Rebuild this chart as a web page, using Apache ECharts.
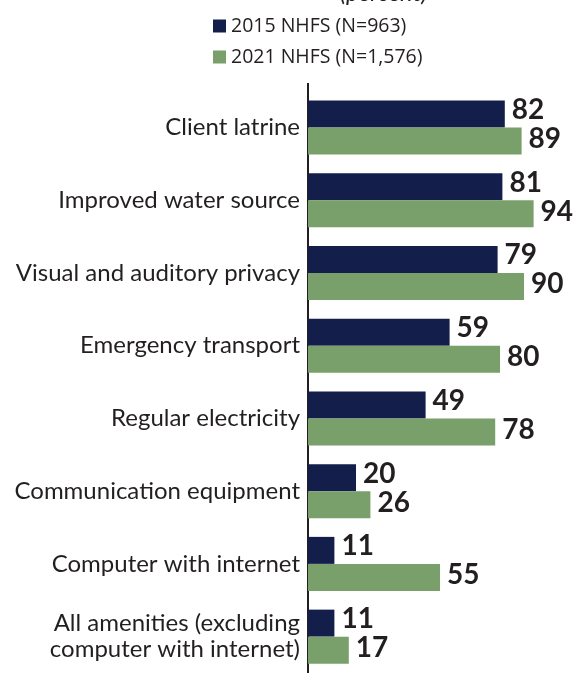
<!DOCTYPE html>
<html>
<head>
<meta charset="utf-8">
<script src="https://cdn.jsdelivr.net/npm/echarts@6/dist/echarts.min.js"></script>
<style>
html,body{margin:0;padding:0;background:#fff;}
#chart{width:573px;height:673px;}
</style>
</head>
<body>
<div id="chart"></div>
<script>
const categories = [
  "Client latrine",
  "Improved water source",
  "Visual and auditory privacy",
  "Emergency transport",
  "Regular electricity",
  "Communication equipment",
  "Computer with internet",
  "All amenities (excluding\ncomputer with internet)"
];
const seriesNames = ["2015 NHFS (N=963)", "2021 NHFS (N=1,576)"];
const values2015 = [82, 81, 79, 59, 49, 20, 11, 11];
const values2021 = [89, 94, 90, 80, 78, 26, 55, 17];

const chart = echarts.init(document.getElementById('chart'));
const labelStyle = {
  show: true, position: 'right', distance: 7,
  fontSize: 28, fontWeight: 'bold', color: '#231f20', fontFamily: 'Lato'
};
chart.setOption({
  animation: false,
  title: {
    text: '(percent)', left: 335, top: -24,
    textStyle: {fontSize: 24, fontStyle: 'italic', fontWeight: 'normal', color: '#231f20', fontFamily: 'Lato'}
  },
  legend: {
    orient: 'vertical', left: 208, top: 11, itemWidth: 13, itemHeight: 13, itemGap: 11,
    icon: 'rect',
    textStyle: {fontSize: 19.5, color: '#231f20', fontFamily: 'Open Sans'},
    data: seriesNames
  },
  grid: {left: 308, right: 25, top: 91, bottom: 0, containLabel: false},
  xAxis: {type: 'value', min: 0, max: 100, show: false},
  yAxis: {
    type: 'category', data: categories, inverse: true,
    axisLine: {show: true, lineStyle: {color: '#231f20', width: 2}},
    axisTick: {show: false},
    axisLabel: {fontSize: 24, color: '#231f20', fontFamily: 'Lato', margin: 8, lineHeight: 26, align: 'right'}
  },
  graphic: [{
    type: 'line', shape: {x1: 308, y1: 83, x2: 308, y2: 92},
    style: {stroke: '#231f20', lineWidth: 2}
  }],
  series: [
    {name: seriesNames[0], type: 'bar', data: values2015, barWidth: 27, barGap: '0%',
     itemStyle: {color: '#131e4a'}, label: Object.assign({}, labelStyle, {offset: [0, -4]})},
    {name: seriesNames[1], type: 'bar', data: values2021, barWidth: 27, barGap: '0%',
     itemStyle: {color: '#799f6a'}, label: Object.assign({}, labelStyle, {offset: [0, -2]})}
  ]
});
</script>
</body>
</html>
